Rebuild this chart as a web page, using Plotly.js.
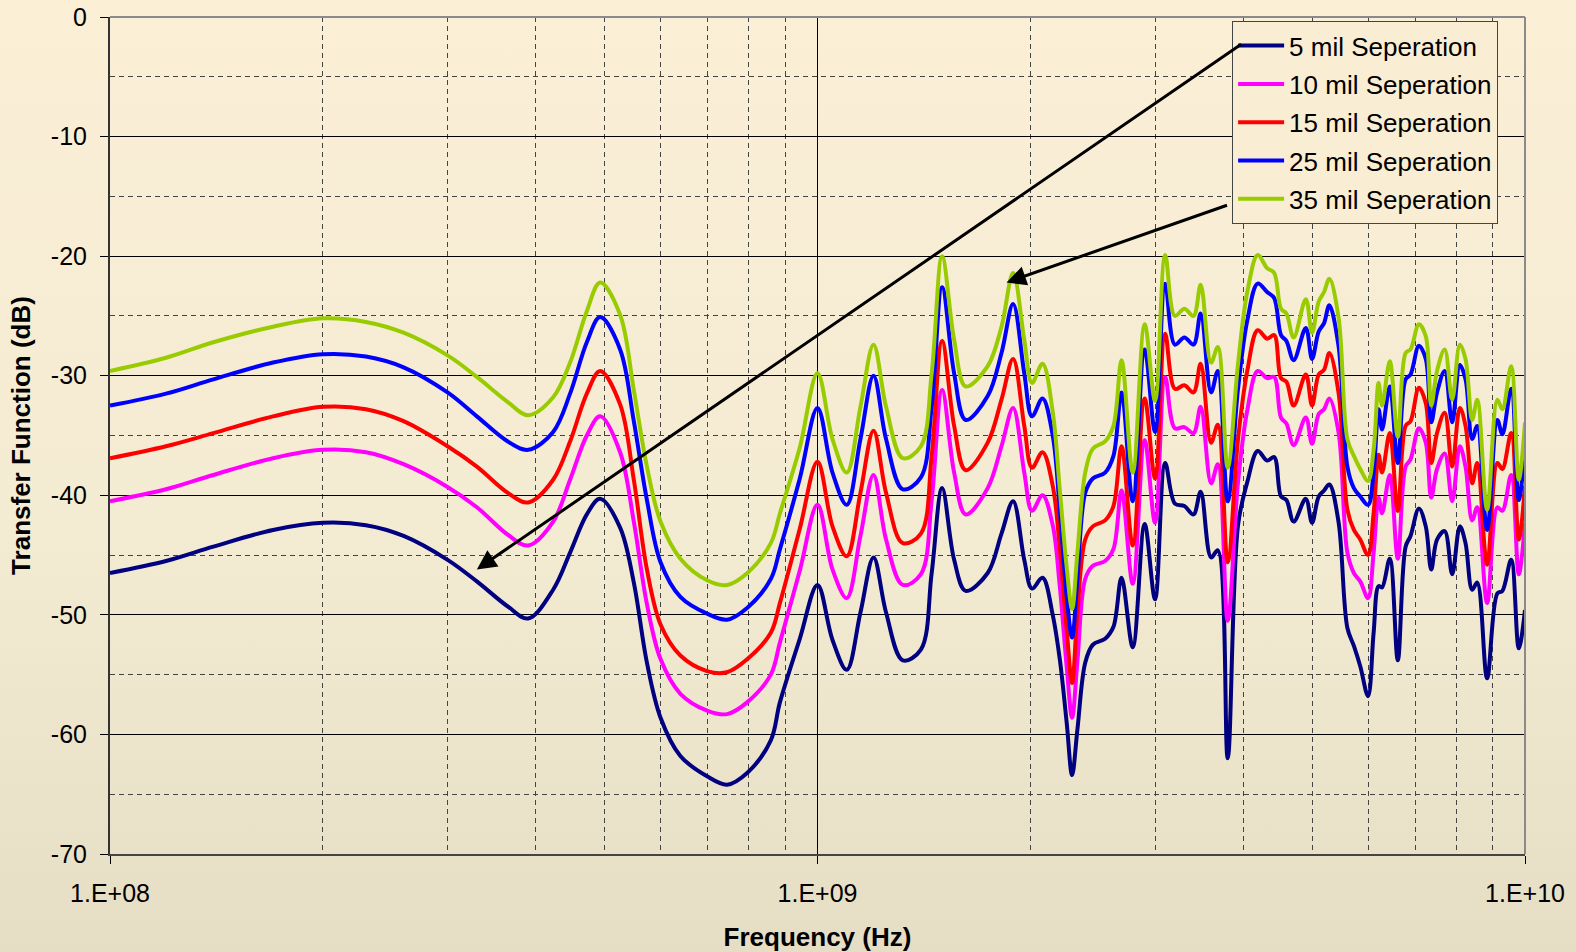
<!DOCTYPE html>
<html>
<head>
<meta charset="utf-8">
<script src="https://cdn.plot.ly/plotly-3.0.1.min.js"></script>
<style>
  html, body { margin: 0; padding: 0; }
  body {
    width: 1576px; height: 952px; overflow: hidden;
    background: linear-gradient(to bottom, #FBEFD6 0%, #F4EBD3 55%, #E6DDC5 100%);
  }
  #chart { width: 1576px; height: 952px; }
</style>
</head>
<body>
<div id="chart"></div>
<script>
// Frequency points (Hz)
const freqHz = [
  1.00e8, 1.20e8, 1.40e8, 1.70e8, 2.00e8, 2.30e8, 2.60e8, 3.00e8, 3.30e8, 3.65e8,
  3.90e8, 4.23e8, 4.47e8, 4.72e8, 4.93e8, 5.26e8, 5.50e8, 5.74e8, 6.00e8, 6.40e8,
  6.98e8, 7.45e8, 7.96e8, 8.59e8, 8.85e8, 9.44e8, 1.00e9, 1.05e9, 1.10e9, 1.15e9,
  1.20e9, 1.25e9, 1.32e9, 1.40e9, 1.45e9, 1.50e9, 1.56e9, 1.62e9, 1.74e9, 1.82e9,
  1.89e9, 1.96e9, 2.01e9, 2.08e9, 2.15e9, 2.20e9, 2.25e9, 2.29e9, 2.33e9, 2.39e9,
  2.45e9, 2.55e9, 2.62e9, 2.69e9, 2.79e9, 2.90e9, 3.00e9, 3.10e9, 3.20e9, 3.30e9,
  3.40e9, 3.48e9, 3.60e9, 3.68e9, 3.80e9, 3.93e9, 4.05e9, 4.19e9, 4.32e9, 4.42e9,
  4.52e9, 4.60e9, 4.71e9, 4.90e9, 5.00e9, 5.11e9, 5.20e9, 5.29e9, 5.45e9, 5.61e9,
  5.73e9, 5.85e9, 6.00e9, 6.11e9, 6.21e9, 6.28e9, 6.44e9, 6.61e9, 6.78e9, 6.89e9,
  7.08e9, 7.24e9, 7.37e9, 7.51e9, 7.70e9, 7.89e9, 8.09e9, 8.24e9, 8.42e9, 8.56e9,
  8.84e9, 9.14e9, 9.29e9, 9.56e9, 9.80e9, 1.00e10
];

// Transfer function (dB) for each trace separation
const sep5 = [
  -46.5, -45.5, -44.3, -42.9, -42.3, -42.5, -43.4, -45.4, -47.2, -49.3,
  -50.3, -47.9, -44.8, -41.6, -40.3, -42.7, -47.3, -54.0, -58.6, -61.8,
  -63.5, -64.2, -63.2, -60.5, -57.3, -52.0, -47.5, -52.1, -54.6, -49.8,
  -45.2, -49.8, -53.8, -52.9, -46.5, -39.4, -45.4, -48.0, -46.5, -43.2,
  -40.5, -45.4, -47.8, -46.9, -50.0, -53.7, -59.0, -63.4, -59.6, -54.0,
  -52.5, -52.0, -51.0, -46.9, -52.7, -42.4, -48.7, -37.3, -40.7, -40.9,
  -41.6, -39.7, -45.2, -44.6, -62.0, -42.5, -38.9, -36.3, -37.1, -36.8,
  -40.1, -40.4, -42.2, -40.3, -42.3, -40.1, -39.6, -39.1, -42.2, -51.1,
  -52.6, -54.3, -56.8, -51.5, -47.6, -47.7, -45.3, -53.8, -44.3, -43.4,
  -41.1, -42.6, -46.2, -43.7, -43.0, -46.6, -42.6, -44.0, -47.9, -47.3,
  -55.3, -48.2, -48.0, -45.4, -52.8, -49.6
];
const sep10 = [
  -40.5, -39.5, -38.3, -36.9, -36.2, -36.4, -37.4, -39.3, -41.0, -43.3,
  -44.2, -42.2, -38.7, -35.0, -33.4, -36.4, -42.2, -49.1, -53.7, -56.6,
  -58.0, -58.3, -57.3, -55.0, -52.3, -46.3, -40.8, -46.2, -48.6, -43.4,
  -38.3, -43.7, -47.5, -46.6, -40.4, -31.2, -38.1, -41.6, -39.4, -35.9,
  -32.7, -38.1, -41.3, -40.0, -42.5, -47.6, -54.3, -58.6, -53.9, -47.0,
  -45.9, -45.5, -44.5, -39.6, -47.4, -35.4, -42.3, -30.1, -34.4, -34.3,
  -34.8, -32.6, -39.0, -37.4, -50.5, -38.9, -32.9, -29.6, -30.2, -30.1,
  -33.5, -34.0, -35.8, -33.5, -35.7, -33.2, -32.8, -31.9, -34.7, -44.8,
  -46.5, -47.2, -48.6, -44.8, -40.2, -41.5, -38.3, -45.3, -37.6, -37.0,
  -34.4, -35.6, -40.2, -37.8, -36.5, -40.5, -35.9, -37.6, -42.1, -41.0,
  -49.0, -41.0, -41.3, -38.3, -46.6, -42.3
];
const sep15 = [
  -36.9, -35.9, -34.8, -33.4, -32.6, -32.8, -33.8, -35.9, -37.6, -39.8,
  -40.6, -38.7, -35.5, -31.5, -29.6, -32.4, -38.7, -46.2, -50.8, -53.4,
  -54.7, -54.8, -53.7, -51.5, -49.0, -42.8, -37.2, -42.6, -45.1, -39.8,
  -34.6, -39.8, -44.0, -43.2, -36.7, -27.1, -34.2, -37.9, -35.6, -32.0,
  -28.6, -34.2, -37.7, -36.4, -39.2, -44.4, -51.2, -55.7, -49.8, -43.7,
  -42.6, -42.1, -40.9, -35.9, -44.2, -31.9, -38.6, -26.5, -31.1, -30.8,
  -31.4, -29.0, -35.6, -34.1, -45.6, -35.3, -29.6, -26.2, -26.9, -26.6,
  -30.2, -30.5, -32.5, -29.9, -32.5, -29.9, -29.5, -28.1, -31.4, -41.2,
  -42.9, -43.7, -45.0, -41.5, -36.6, -38.1, -34.8, -41.3, -34.2, -33.8,
  -31.0, -32.3, -37.3, -34.8, -33.1, -37.6, -32.7, -34.2, -39.0, -37.3,
  -45.8, -37.3, -37.8, -34.8, -43.7, -39.2
];
const sep25 = [
  -32.5, -31.5, -30.3, -28.9, -28.2, -28.4, -29.3, -31.4, -33.4, -35.5,
  -36.2, -34.7, -31.5, -27.2, -25.1, -27.8, -33.8, -40.4, -45.6, -48.5,
  -49.9, -50.4, -49.4, -47.0, -44.5, -38.6, -32.7, -38.1, -40.8, -35.3,
  -30.0, -35.3, -39.5, -38.5, -32.6, -22.6, -29.8, -33.7, -31.7, -28.1,
  -24.0, -29.8, -33.4, -31.9, -35.0, -41.2, -48.4, -51.9, -47.0, -39.8,
  -38.6, -38.1, -36.7, -31.4, -40.5, -27.8, -34.7, -22.3, -27.4, -26.8,
  -27.4, -24.8, -31.4, -29.6, -40.5, -31.1, -25.4, -22.3, -23.0, -23.5,
  -26.6, -27.1, -28.7, -26.0, -28.6, -26.3, -25.6, -24.1, -27.5, -37.6,
  -39.4, -40.1, -40.8, -38.1, -32.8, -34.5, -30.9, -37.3, -30.3, -29.9,
  -27.5, -28.6, -33.9, -31.4, -29.6, -33.9, -29.1, -30.3, -35.3, -34.2,
  -42.9, -33.7, -34.9, -31.1, -40.4, -35.9
];
const sep35 = [
  -29.6, -28.5, -27.2, -25.9, -25.2, -25.5, -26.4, -28.3, -30.1, -32.2,
  -33.3, -31.8, -28.9, -24.6, -22.2, -24.9, -31.2, -37.6, -42.2, -45.3,
  -47.1, -47.5, -46.5, -44.0, -41.5, -36.0, -29.8, -35.3, -38.1, -32.6,
  -27.4, -32.6, -36.9, -35.9, -29.8, -20.0, -27.0, -30.9, -29.2, -25.9,
  -21.4, -27.0, -30.6, -29.0, -33.0, -39.5, -46.0, -49.5, -44.8, -38.1,
  -36.1, -35.5, -34.2, -28.7, -38.1, -25.7, -32.1, -19.9, -25.0, -24.4,
  -25.0, -22.4, -28.9, -27.6, -37.7, -29.0, -23.0, -19.9, -21.0, -21.4,
  -24.4, -24.8, -26.8, -23.6, -26.4, -23.8, -23.0, -21.9, -25.1, -35.3,
  -36.7, -37.8, -38.8, -36.2, -30.6, -32.5, -28.8, -35.1, -28.1, -27.8,
  -25.7, -26.7, -32.5, -29.6, -27.8, -32.0, -27.4, -28.6, -33.7, -32.0,
  -41.2, -32.0, -32.8, -29.2, -38.7, -33.9
];

const seriesNames = [
  '5 mil Seperation', '10 mil Seperation', '15 mil Seperation',
  '25 mil Seperation', '35 mil Seperation'
];
const seriesValues = [sep5, sep10, sep15, sep25, sep35];
const seriesColors = ['#000080', '#FF00FF', '#FF0000', '#0000FF', '#99CC00'];

// Axis ticks
const xTickVals = [1e8, 1e9, 1e10];
const xTickText = ['1.E+08', '1.E+09', '1.E+10'];
const xMinorVals = [2e8, 3e8, 4e8, 5e8, 6e8, 7e8, 8e8, 9e8,
                    2e9, 3e9, 4e9, 5e9, 6e9, 7e9, 8e9, 9e9];
const yTickVals = [0, -10, -20, -30, -40, -50, -60, -70];
const yTickText = ['0', '-10', '-20', '-30', '-40', '-50', '-60', '-70'];
const yMinorVals = [-5, -15, -25, -35, -45, -55, -65];

const traces = seriesValues.map((vals, i) => ({
  type: 'scatter',
  mode: 'lines',
  x: freqHz,
  y: vals,
  name: seriesNames[i],
  legendgroup: 'g' + i,
  line: { color: seriesColors[i], width: 4, shape: 'spline', smoothing: 1 },
  hoverinfo: 'skip'
}));

// Callout arrows (frequency in Hz, dB)
const arrowSpecs = [
  { head: [3.30e8, -46.2], tail: [3.99e9, -2.2] },
  { head: [1.85e9, -22.2], tail: [3.81e9, -15.7] }
];
const annotations = arrowSpecs.map(a => ({
  xref: 'x', yref: 'y', axref: 'x', ayref: 'y',
  x: Math.log10(a.head[0]), y: a.head[1],
  ax: Math.log10(a.tail[0]), ay: a.tail[1],
  text: '', showarrow: true,
  arrowhead: 2, arrowsize: 1.3, arrowwidth: 3, arrowcolor: '#000',
  standoff: 0, startstandoff: 0
}));

const fontFamily = 'Liberation Sans, Arial, Helvetica, sans-serif';

const layout = {
  width: 1576,
  height: 952,
  margin: { l: 110, r: 51, t: 17, b: 98 },
  paper_bgcolor: 'rgba(0,0,0,0)',
  plot_bgcolor: 'rgba(0,0,0,0)',
  font: { family: fontFamily, size: 25, color: '#000' },
  showlegend: true,
  legend: {
    x: 0.793, y: 0.995, xanchor: 'left', yanchor: 'top',
    bgcolor: '#F9EDD4', bordercolor: '#444', borderwidth: 1,
    font: { family: fontFamily, size: 26, color: '#000' },
    tracegroupgap: 1.5,
    itemwidth: 46
  },
  xaxis: {
    type: 'log',
    range: [8, 10],
    tickmode: 'array',
    tickvals: xTickVals,
    ticktext: xTickText,
    ticks: 'outside', ticklen: 8, tickwidth: 1, tickcolor: '#000',
    ticklabelstandoff: 8,
    showgrid: true, gridcolor: '#000', gridwidth: 1,
    showline: true, linecolor: '#444', linewidth: 2,
    zeroline: false,
    automargin: false,
    minor: {
      tickvals: xMinorVals, ticks: '', showgrid: true,
      gridcolor: '#444', gridwidth: 1, griddash: '5px,4px'
    },
    title: { text: '<b>Frequency (Hz)</b>', font: { size: 26, family: fontFamily }, standoff: 24 }
  },
  yaxis: {
    range: [-70, 0],
    tickmode: 'array',
    tickvals: yTickVals,
    ticktext: yTickText,
    ticks: 'outside', ticklen: 8, tickwidth: 1, tickcolor: '#000',
    ticklabelstandoff: 8,
    showgrid: true, gridcolor: '#000', gridwidth: 1,
    showline: true, linecolor: '#333', linewidth: 2,
    zeroline: false,
    automargin: false,
    minor: {
      tickvals: yMinorVals, ticks: '', showgrid: true,
      gridcolor: '#444', gridwidth: 1, griddash: '5px,4px'
    },
    title: { text: '<b>Transfer Function (dB)</b>', font: { size: 26, family: fontFamily }, standoff: 13 }
  },
  shapes: [
    { type: 'line', xref: 'paper', yref: 'paper', x0: 0, x1: 1, y0: 1, y1: 1,
      line: { color: '#8A8A8A', width: 2 } },
    { type: 'line', xref: 'paper', yref: 'paper', x0: 1, x1: 1, y0: 0, y1: 1,
      line: { color: '#8A8A8A', width: 2 } }
  ],
  annotations: annotations
};

Plotly.newPlot('chart', traces, layout, { displayModeBar: false, staticPlot: true });
</script>
</body>
</html>
